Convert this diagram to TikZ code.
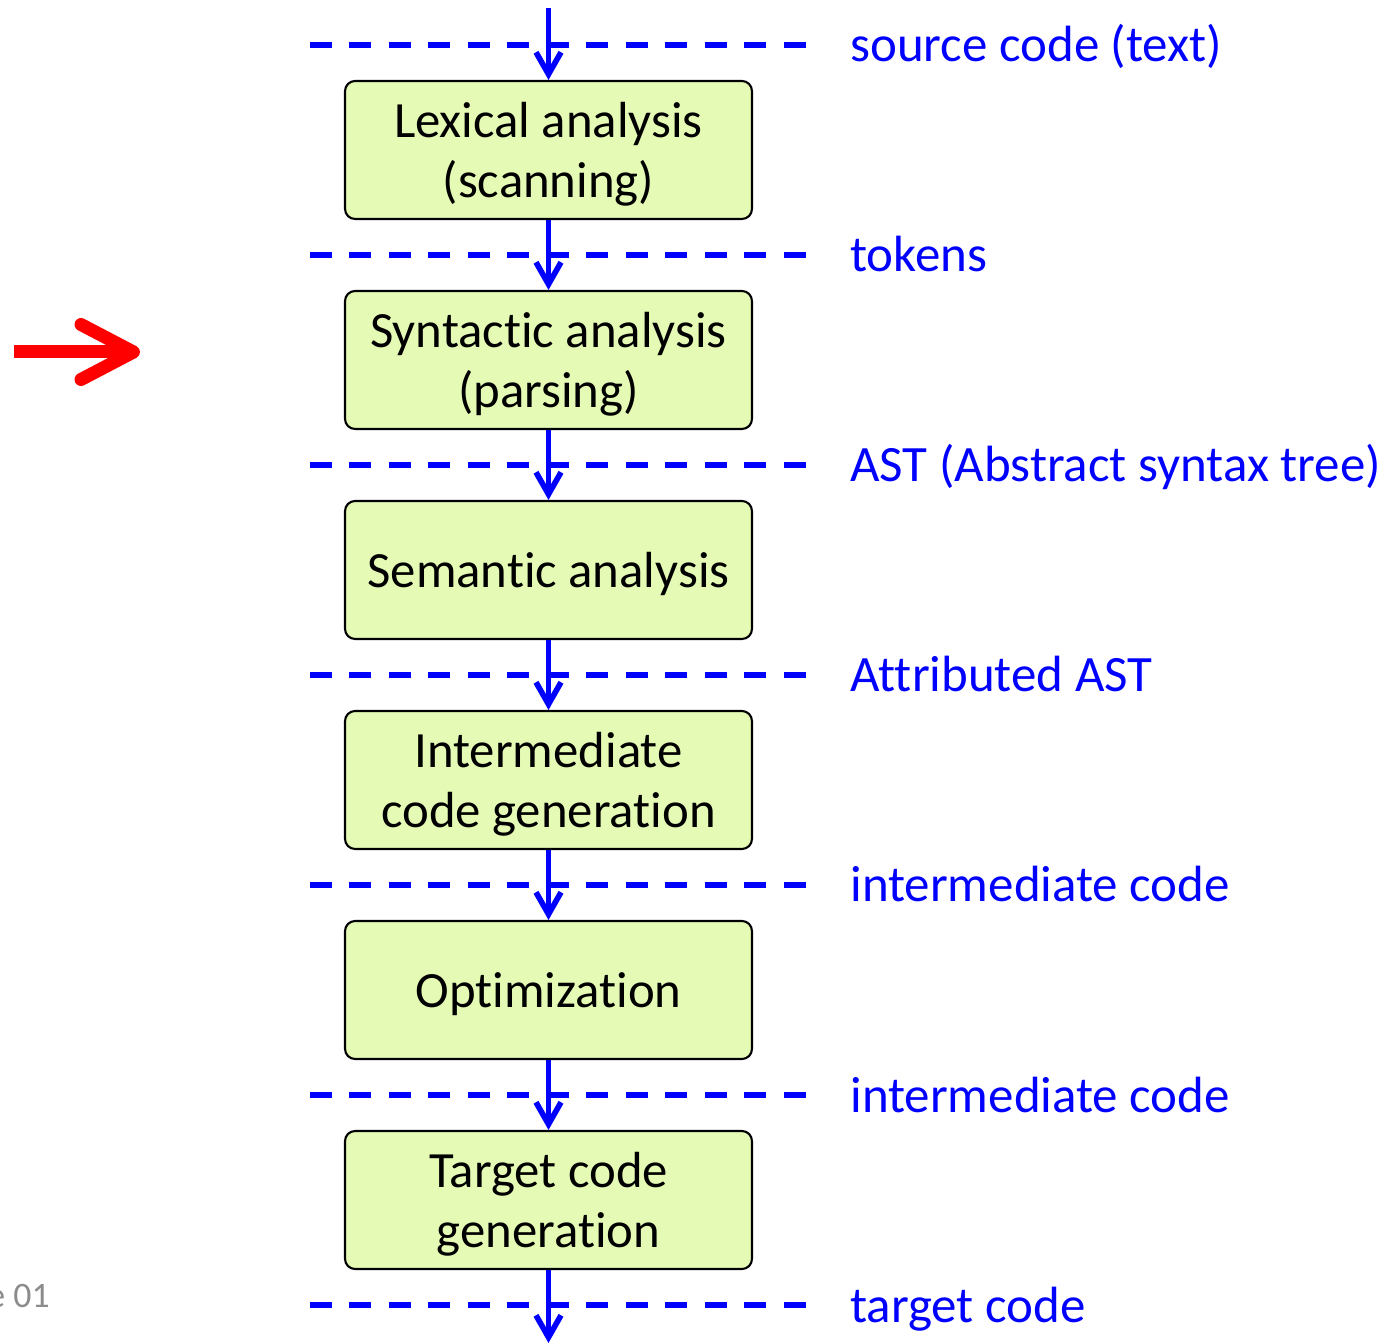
\documentclass[tikz,border=0pt]{standalone}
\usepackage{fontspec}
\setmainfont{Carlito}[Ligatures={NoCommon}]
\usetikzlibrary{arrows.meta}
\definecolor{phasegreen}{RGB}{229,251,181}
\definecolor{slidegray}{RGB}{140,140,140}
\tikzset{
    phase/.style={draw=black, line width=1.2pt, fill=phasegreen, rounded corners=0.2cm,
        minimum width=8.14cm, minimum height=2.76cm, align=center, text depth=0pt,
        font=\fontsize{28.9}{34.4}\selectfont},
    flow/.style={blue, line width=3.2pt, -{Straight Barb[length=0.44cm, width=0.5cm]}},
    stage/.style={blue, line width=3.2pt, dash pattern=on 0.44cm off 0.35cm},
    datalabel/.style={anchor=base west, text=blue, inner sep=0pt,
        font=\fontsize{29}{34}\selectfont},
}
\begin{document}
\begin{tikzpicture}[x=0.02cm, y=-0.02cm]
    \useasboundingbox (0, 0) rectangle (1384, 1344);
    % phase boxes
    \node [phase] (lex) at (548.5, 150) {Lexical analysis\\(scanning)};
    \node [phase] (syn) at (548.5, 360) {Syntactic analysis\\(parsing)};
    \node [phase] (sem) at (548.5, 570) {Semantic analysis};
    \node [phase] (icg) at (548.5, 780) {Intermediate\\code generation};
    \node [phase] (opt) at (548.5, 990) {Optimization};
    \node [phase] (tcg) at (548.5, 1200) {Target code\\generation};
    % stage separators
    \draw [stage] (310, 45) -- (808, 45);
    \draw [stage] (310, 255) -- (808, 255);
    \draw [stage] (310, 465) -- (808, 465);
    \draw [stage] (310, 675) -- (808, 675);
    \draw [stage] (310, 885) -- (808, 885);
    \draw [stage] (310, 1095) -- (808, 1095);
    \draw [stage] (310, 1305) -- (808, 1305);
    % data between phases
    \node [datalabel] (src) at (850, 62) {source code (text)};
    \node [datalabel] (tok) at (850, 272) {tokens};
    \node [datalabel] (ast) at (850, 482) {AST (Abstract syntax tree)};
    \node [datalabel] (aast) at (850, 692) {Attributed AST};
    \node [datalabel] (ir1) at (850, 902) {intermediate code};
    \node [datalabel] (ir2) at (850, 1112) {intermediate code};
    \node [datalabel] (tgt) at (850, 1322) {target code};
    % flow arrows
    \coordinate (in) at (548.5, 8);
    \coordinate (out) at (548.5, 1343);
    \draw [flow] (in) -- (lex.north);
    \draw [flow] (lex.south) -- (syn.north);
    \draw [flow] (syn.south) -- (sem.north);
    \draw [flow] (sem.south) -- (icg.north);
    \draw [flow] (icg.south) -- (opt.north);
    \draw [flow] (opt.south) -- (tcg.north);
    \draw [flow] (tcg.south) -- (out);
    % current phase marker
    \coordinate (mark tail) at (14, 352);
    \coordinate (mark head) at (140, 352);
    \draw [red, line width=7.4pt, -{Straight Barb[length=1.05cm, width=1.1cm, round]}]
        (mark tail) -- (mark head);
    % slide number
    \node [anchor=base east, text=slidegray, inner sep=0pt,
        font=\fontsize{20.4}{24}\selectfont] (slide) at (50, 1307) {e 01};
\end{tikzpicture}
\end{document}
